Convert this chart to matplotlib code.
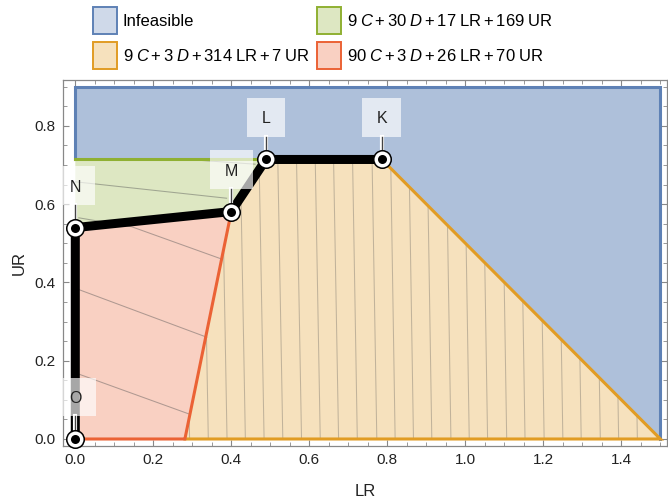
import matplotlib
matplotlib.use('Agg')
import matplotlib.pyplot as plt
import matplotlib.patches as mpatches
import matplotlib.transforms as mtransforms
import matplotlib.patheffects as pe
from matplotlib.ticker import MultipleLocator, FormatStrFormatter

plt.rcParams['font.family'] = ['Liberation Sans', 'DejaVu Sans']
plt.rcParams['mathtext.fontset'] = 'custom'
plt.rcParams['mathtext.rm'] = 'Liberation Sans'
plt.rcParams['mathtext.it'] = 'Liberation Sans:italic'
plt.rcParams['mathtext.bf'] = 'Liberation Sans:bold'

# ---------------- data ----------------
legend_labels = [
    'Infeasible',
    r'$9\;C+3\;D+314\;\mathrm{LR}+7\;\mathrm{UR}$',
    r'$9\;C+30\;D+17\;\mathrm{LR}+169\;\mathrm{UR}$',
    r'$90\;C+3\;D+26\;\mathrm{LR}+70\;\mathrm{UR}$',
]

infeasible_LR = [0.0, 0.0, 1.5, 1.5, 0.786, 0.489]
infeasible_UR = [0.714, 0.9, 0.9, 0.0, 0.714, 0.714]
orange_LR = [0.281, 1.5, 0.786, 0.489, 0.400]
orange_UR = [0.0, 0.0, 0.714, 0.714, 0.581]
green_LR = [0.0, 0.400, 0.489, 0.0]
green_UR = [0.540, 0.581, 0.714, 0.714]
red_LR = [0.0, 0.281, 0.400, 0.0]
red_UR = [0.0, 0.0, 0.581, 0.540]

point_names = ['O', 'N', 'M', 'L', 'K']
point_LR = [0.0, 0.0, 0.400, 0.489, 0.786]
point_UR = [0.0, 0.540, 0.581, 0.714, 0.714]

# thin mesh lines in the red / green regions (polylines)
mesh_LR = [[0.009, 0.145, 0.377], [0.0, 0.337], [0.0, 0.294],
           [0.0, 0.388], [0.302, 0.461]]
mesh_UR = [[0.565, 0.542, 0.459], [0.385, 0.260], [0.169, 0.063],
           [0.657, 0.615], [0.713, 0.702]]

# near-vertical mesh lines in the orange region (x at UR=0 and at UR=1)
orange_line_LR0 = [0.293, 0.341, 0.389, 0.436, 0.484, 0.532, 0.580, 0.628,
                   0.675, 0.723, 0.773, 0.820, 0.867, 0.914, 0.963, 1.010,
                   1.057, 1.106, 1.153, 1.202, 1.250, 1.297, 1.346, 1.393,
                   1.441]
orange_line_LR1 = [0.275, 0.323, 0.371, 0.418, 0.466, 0.514, 0.562, 0.610,
                   0.657, 0.706, 0.756, 0.804, 0.851, 0.898, 0.947, 0.994,
                   1.041, 1.090, 1.137, 1.186, 1.234, 1.281, 1.330, 1.377,
                   1.425]

x_ticks = [0.0, 0.2, 0.4, 0.6, 0.8, 1.0, 1.2, 1.4]
y_ticks = [0.0, 0.2, 0.4, 0.6, 0.8]

# ---------------- style ----------------
BLUE, ORANGE, GREEN, RED = '#5E81B5', '#E19C24', '#8FB032', '#EB6235'
BLUE_FILL, BLUE_LEG = '#aec0da', '#cfd9e9'
ORANGE_FILL, GREEN_FILL, RED_FILL = '#f6e1bd', '#dde7c2', '#f9d0c2'
DPI = 100

fig = plt.figure(figsize=(6.68, 4.98), dpi=DPI)
ax = fig.add_axes([62.7 / 668, 52 / 498, (667 - 62.7) / 668, (446 - 80) / 498])
ax.set_xlim(-0.0323, 1.517)
ax.set_ylim(-0.0179, 0.917)

def poly(xs, ys, fc):
    p = mpatches.Polygon(list(zip(xs, ys)), closed=True, fc=fc, ec='none', zorder=1)
    ax.add_patch(p)
    return p

poly(infeasible_LR, infeasible_UR, BLUE_FILL)
orange_patch = poly(orange_LR, orange_UR, ORANGE_FILL)
poly(green_LR, green_UR, GREEN_FILL)
poly(red_LR, red_UR, RED_FILL)

# mesh lines
for xs, ys in zip(mesh_LR, mesh_UR):
    ax.plot(xs, ys, color='#555555', alpha=0.45, lw=0.75, zorder=2)
for x0, x1 in zip(orange_line_LR0, orange_line_LR1):
    ln, = ax.plot([x0, x1], [0.0, 1.0], color='#555555', alpha=0.33, lw=0.75, zorder=2)
    ln.set_clip_path(orange_patch)

# region edges
ELW = 2.2
ax.plot(infeasible_LR[0:4], infeasible_UR[0:4], color=BLUE, lw=ELW, zorder=3,
        solid_joinstyle='miter')
ax.plot([green_LR[3], green_LR[2]], [green_UR[3], green_UR[2]], color=GREEN, lw=ELW, zorder=3)
ax.plot(orange_LR[0:3], orange_UR[0:3], color=ORANGE, lw=ELW, zorder=3,
        solid_joinstyle='miter')
ax.plot(red_LR[0:3], red_UR[0:3], color=RED, lw=ELW, zorder=3.1,
        solid_joinstyle='miter')

# optimal path
ax.plot(point_LR, point_UR, color='black', lw=6.5, zorder=4,
        solid_joinstyle='round', solid_capstyle='butt')

# labels with translucent boxes and leaders
box_w = {'O': 41, 'N': 40, 'M': 43, 'L': 38, 'K': 39}
box_h = 38.5
lab_dy = 42.0
for name, x, y in zip(point_names, point_LR, point_UR):
    trans = fig.dpi_scale_trans + mtransforms.ScaledTranslation(x, y, ax.transData)
    w = box_w[name]
    rect = mpatches.Rectangle((-w / 2 / DPI, (lab_dy - box_h / 2) / DPI), w / DPI, box_h / DPI,
                              transform=trans, fc='white', alpha=0.66, ec='none', zorder=5)
    ax.add_patch(rect)
    ax.plot([0, 0], [8.0 / DPI, (lab_dy - box_h / 2) / DPI], transform=trans,
            color='#444444', lw=1.0, zorder=6,
            path_effects=[pe.Stroke(linewidth=3, foreground='white'), pe.Normal()])
    ax.text(0, (lab_dy - 6.0) / DPI, name, transform=trans, ha='center', va='baseline',
            fontsize=11.5, color='#222222', zorder=6)

ax.plot(point_LR, point_UR, 'o', ms=12.6, mfc='white', mec='black', mew=1.1,
        zorder=7, clip_on=False)
ax.plot(point_LR, point_UR, 'o', ms=6.5, color='black', mew=0, zorder=8, clip_on=False)

# axes styling
ax.set_xticks(x_ticks)
ax.set_yticks(y_ticks)
ax.xaxis.set_minor_locator(MultipleLocator(0.05))
ax.yaxis.set_minor_locator(MultipleLocator(0.05))
ax.xaxis.set_major_formatter(FormatStrFormatter('%.1f'))
ax.yaxis.set_major_formatter(FormatStrFormatter('%.1f'))
ax.tick_params(which='both', direction='in', top=True, right=True, color='#888888',
               labelsize=11, labelcolor='#222222')
ax.tick_params(which='major', length=4.5, width=0.8, pad=5)
ax.tick_params(which='minor', length=2.6, width=0.6)
for s in ax.spines.values():
    s.set_color('#888888')
    s.set_linewidth(0.9)

ax.set_xlabel('LR', fontsize=12, color='#222222', labelpad=12)
ax.set_ylabel('UR', fontsize=12, color='#222222', labelpad=6)

# legend
handles = [
    mpatches.Patch(fc=BLUE_LEG, ec=BLUE, lw=1.4),
    mpatches.Patch(fc=ORANGE_FILL, ec=ORANGE, lw=1.4),
    mpatches.Patch(fc=GREEN_FILL, ec=GREEN, lw=1.4),
    mpatches.Patch(fc=RED_FILL, ec=RED, lw=1.4),
]
fig.legend(handles, legend_labels, ncol=2, loc='upper left',
           bbox_to_anchor=(93 / 668, 1 - 7.5 / 498), frameon=False, fontsize=12,
           borderpad=0, borderaxespad=0, handlelength=1.46, handleheight=2.08,
           handletextpad=0.34, columnspacing=0.4, labelspacing=0.47)

fig.savefig('out.png', dpi=DPI)
